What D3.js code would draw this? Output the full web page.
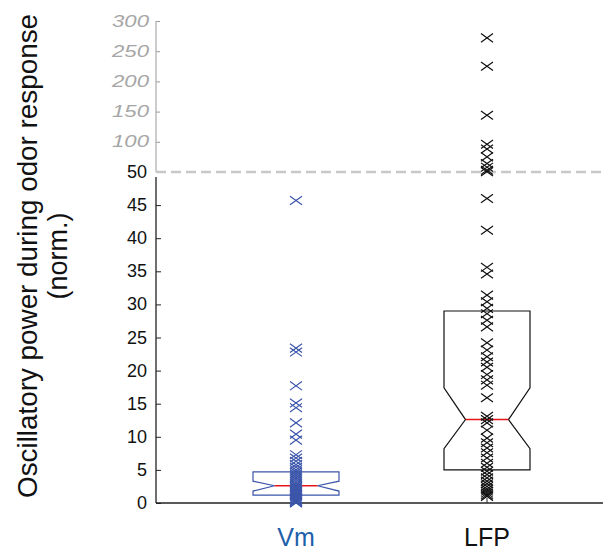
<!DOCTYPE html>
<html lang="en">
<head>
    <meta charset="utf-8">
    <title>Oscillatory power</title>
    <script src="https://d3js.org/d3.v7.min.js"></script>
</head>
<body style="margin:0">
<svg id="chart" width="603" height="550"></svg>
<style>
    text { font-family: "Liberation Sans", Arial, sans-serif; }
</style>
<script>
    var categories = ["Vm", "LFP"];
    var vmValues = [45.7, 23.4, 22.8, 17.7, 15.1, 14.4, 12.1, 10.4, 9.5, 7.3, 6.8, 6.3, 5.8,
        5.4, 5.0, 4.7, 4.4, 4.1, 3.8, 3.5, 3.2, 2.9, 2.7, 2.5, 2.3, 2.1, 1.9, 1.7, 1.5, 1.3,
        1.1, 0.9, 0.7, 0.5, 0.35, 0.2, 0.1, 0.02];
    var lfpValues = [272, 225, 144, 96, 88, 75, 64, 58, 53, 50.5, 46, 41.2, 35.6, 34.6, 31.4,
        30.4, 29.4, 28.6, 27.6, 26.6, 24.2, 23.1, 22.1, 21.3, 20.5, 19.4, 18.6, 17.8, 15.9,
        13.1, 12.6, 12.1, 11.0, 9.8, 9.1, 8.3, 7.6, 6.8, 6.0, 5.4, 4.8, 4.3, 3.8, 3.3, 2.9,
        2.5, 2.1, 1.8, 1.5, 1.2, 1.0];
    // box stats: q1, notch low, median, notch high, q3
    var boxStats = [[1.2, 1.8, 2.6, 3.3, 4.7], [5.0, 8.2, 12.6, 17.4, 29.0]];
    var lowerTicks = [0, 5, 10, 15, 20, 25, 30, 35, 40, 45, 50];
    var upperTicks = [100, 150, 200, 250, 300];
    var colors = ["#3b55aa", "#111"];
    var labelColors = ["#2060aa", "#111"];

    var svg = d3.select("#chart");
    var y = d3.scaleLinear().domain([0, 50, 300]).range([503, 172, 21]);
    var x = d3.scalePoint().domain(categories).range([296, 487]);
    var x0 = 156, x1 = 603, halfW = 43;

    // y axis, lower (black) part
    var lowAxis = svg.append("g").attr("transform", "translate(" + x0 + ",0)")
        .call(d3.axisRight(y).tickValues(lowerTicks).tickSize(5).tickFormat(""));
    lowAxis.select(".domain").remove();
    lowAxis.selectAll(".tick line").attr("stroke", "#222");
    svg.append("line").attr("x1", x0).attr("x2", x0).attr("y1", y(0)).attr("y2", 177)
        .attr("stroke", "#222").attr("stroke-width", 1.3);
    svg.selectAll(".lowlab").data(lowerTicks).enter().append("text")
        .attr("x", 147).attr("y", function (d) { return y(d) + 6; })
        .attr("text-anchor", "end").attr("font-size", 18).attr("fill", "#111")
        .text(function (d) { return d; });

    // y axis, upper (grey, compressed) part
    var upAxis = svg.append("g").attr("transform", "translate(" + x0 + ",0)")
        .call(d3.axisRight(y).tickValues(upperTicks).tickSize(4).tickFormat(""));
    upAxis.select(".domain").remove();
    upAxis.selectAll(".tick line").attr("stroke", "#999");
    svg.append("line").attr("x1", x0).attr("x2", x0).attr("y1", y(300)).attr("y2", y(50))
        .attr("stroke", "#aaa").attr("stroke-width", 1.2);
    svg.selectAll(".uplab").data(upperTicks).enter().append("text")
        .attr("x", 149).attr("y", function (d) { return y(d) + 5.5; })
        .attr("text-anchor", "end").attr("font-size", 16).attr("font-style", "italic")
        .attr("fill", "#a6a6a6").attr("textLength", 37).attr("lengthAdjust", "spacingAndGlyphs")
        .text(function (d) { return d; });

    // x axis
    svg.append("line").attr("x1", x0).attr("x2", x1).attr("y1", y(0)).attr("y2", y(0))
        .attr("stroke", "#222").attr("stroke-width", 1.3);
    svg.selectAll(".xtick").data(categories).enter().append("line")
        .attr("x1", function (d) { return x(d); }).attr("x2", function (d) { return x(d); })
        .attr("y1", y(0)).attr("y2", y(0) - 5).attr("stroke", "#222");
    svg.selectAll(".xlab").data(categories).enter().append("text")
        .attr("x", function (d) { return x(d); }).attr("y", 546)
        .attr("text-anchor", "middle").attr("font-size", 25)
        .attr("fill", function (d, i) { return labelColors[i]; })
        .text(function (d) { return d; });

    // dashed break line at 50
    svg.append("line").attr("x1", x0).attr("x2", x1).attr("y1", y(50)).attr("y2", y(50))
        .attr("stroke", "#c8c8c8").attr("stroke-width", 2.5).attr("stroke-dasharray", "10,5");

    // notched boxes
    boxStats.forEach(function (s, i) {
        var cx = x(categories[i]), l = cx - halfW, r = cx + halfW, n = halfW / 2;
        var pts = [[l, y(s[4])], [r, y(s[4])], [r, y(s[3])], [cx + n, y(s[2])], [r, y(s[1])],
            [r, y(s[0])], [l, y(s[0])], [l, y(s[1])], [cx - n, y(s[2])], [l, y(s[3])]];
        svg.append("path").attr("d", d3.line()(pts) + "Z").attr("fill", "none")
            .attr("stroke", colors[i]).attr("stroke-width", 1.2);
        svg.append("line").attr("x1", cx - n).attr("x2", cx + n)
            .attr("y1", y(s[2])).attr("y2", y(s[2])).attr("stroke", "#e8161c").attr("stroke-width", 1.5);
    });

    // x markers
    function drawMarkers(values, cat, color) {
        var cx = x(cat);
        svg.append("g").selectAll("path").data(values).enter().append("path")
            .attr("d", function (d) {
                var cy = y(d);
                return "M" + (cx - 6) + "," + (cy - 4.3) + "L" + (cx + 6) + "," + (cy + 4.3) +
                    "M" + (cx - 6) + "," + (cy + 4.3) + "L" + (cx + 6) + "," + (cy - 4.3);
            })
            .attr("stroke", color).attr("stroke-width", 1.2).attr("fill", "none");
    }
    drawMarkers(vmValues, "Vm", colors[0]);
    drawMarkers(lfpValues, "LFP", colors[1]);

    // y title
    var title = svg.append("text").attr("transform", "translate(0,256) rotate(-90)")
        .attr("text-anchor", "middle").attr("font-size", 27).attr("fill", "#111");
    title.append("tspan").attr("x", 0).attr("y", 37)
        .attr("textLength", 484).attr("lengthAdjust", "spacingAndGlyphs")
        .text("Oscillatory power during odor response");
    title.append("tspan").attr("x", 0).attr("y", 67).text("(norm.)");
</script>
</body>
</html>
